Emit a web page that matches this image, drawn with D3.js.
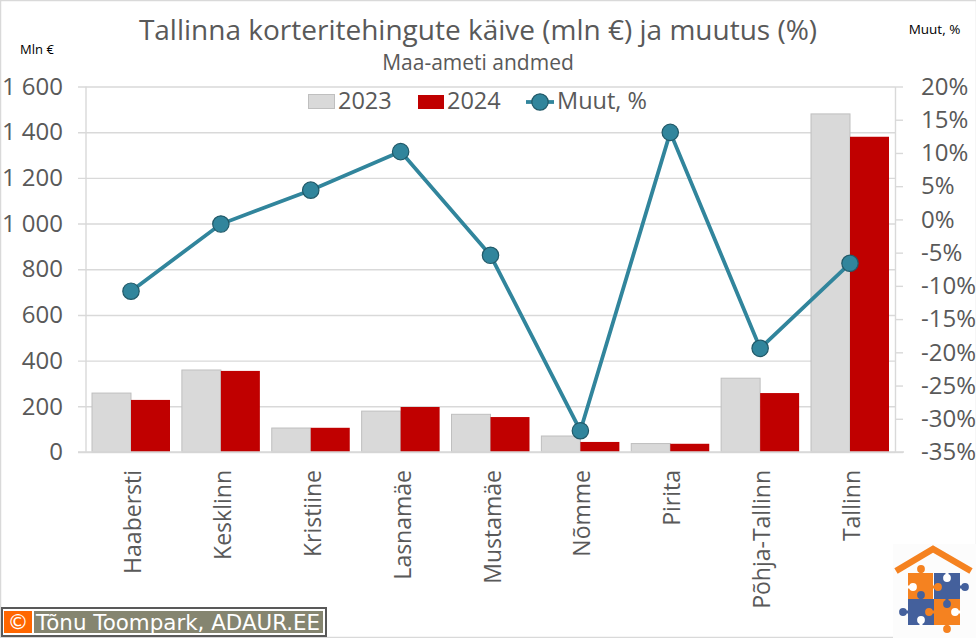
<!DOCTYPE html>
<html>
<head>
<meta charset="utf-8">
<script src="https://cdn.jsdelivr.net/npm/d3@7"></script>
<style>
  html, body { margin: 0; padding: 0; background: #fff; }
  svg { display: block; }
  text { font-family: "Open Sans", sans-serif; }
</style>
</head>
<body>
<div id="chart"></div>
<script>
// chart data
var districts = ["Haabersti", "Kesklinn", "Kristiine", "Lasnamäe", "Mustamäe", "Nõmme", "Pirita", "Põhja-Tallinn", "Tallinn"];
var turnover2023 = [258, 359, 105, 179, 165, 70, 37, 323, 1480];
var turnover2024 = [228, 355, 106, 197, 153, 44, 36, 258, 1380];
var changePct = [-10.8, -0.7, 4.4, 10.2, -5.4, -31.8, 13.1, -19.4, -6.6];
var leftTicks = [0, 200, 400, 600, 800, 1000, 1200, 1400, 1600];
var rightTicks = [20, 15, 10, 5, 0, -5, -10, -15, -20, -25, -30, -35];

var width = 976, height = 638;
var plot = {left: 86, right: 895, top: 86.5, bottom: 452};
var gridColor = "#d9d9d9", textColor = "#595959", lineColor = "#31859c";

var svg = d3.select("#chart").append("svg").attr("width", width).attr("height", height);

// outer border of the picture
svg.append("rect").attr("x", 0.5).attr("y", 0.5).attr("width", width).attr("height", height - 1)
  .attr("fill", "#fff").attr("stroke", gridColor).attr("stroke-width", 1.5);

// scales
var x = d3.scaleBand().domain(districts).range([92, 889]).paddingInner(0.1322).paddingOuter(0);
var xBars = d3.scaleBand().domain(["2023", "2024"]).range([0, x.bandwidth()]);
var yLeft = d3.scaleLinear().domain([0, 1600]).range([plot.bottom, plot.top]);
var yRight = d3.scaleLinear().domain([-35, 20]).range([plot.bottom, plot.top]);

// number format with a space as thousands separator
var fmtLeft = d3.formatLocale({decimal: ",", thousands: " ", grouping: [3], currency: ["", ""]}).format(",d");

// left axis, ticks are stretched over the plot as gridlines
var axisLeft = d3.axisLeft(yLeft).tickValues(leftTicks).tickFormat(fmtLeft)
  .tickSize(plot.right - 78).tickPadding(4);
var gLeft = svg.append("g").attr("transform", "translate(" + plot.right + ",0)").call(axisLeft);
gLeft.select(".domain").remove();
gLeft.selectAll("line").attr("stroke", gridColor).attr("stroke-width", 1.4);
gLeft.selectAll("text").attr("fill", textColor).style("font-size", "24px").attr("x", -(plot.right - 63));

// vertical line at the left edge
svg.append("line").attr("x1", plot.left).attr("x2", plot.left).attr("y1", plot.top).attr("y2", plot.bottom)
  .attr("stroke", gridColor).attr("stroke-width", 1.4);

// right axis, labels are left aligned
var axisRight = d3.axisRight(yRight).tickValues(rightTicks).tickFormat(d => d + "%").tickSizeInner(8).tickSizeOuter(0);
var gRight = svg.append("g").attr("transform", "translate(" + plot.right + ",0)").call(axisRight);
gRight.select(".domain").attr("stroke", gridColor).attr("stroke-width", 1.4);
gRight.selectAll("line").attr("stroke", gridColor).attr("stroke-width", 1.4);
gRight.selectAll("text").attr("fill", textColor).style("font-size", "24px")
  .attr("text-anchor", "start").attr("x", 26);

// bars
var groups = svg.selectAll(".district").data(districts).enter().append("g")
  .attr("class", "district")
  .attr("transform", d => "translate(" + x(d) + ",0)");

groups.append("rect")
  .attr("x", xBars("2023"))
  .attr("y", (d, i) => yLeft(turnover2023[i]))
  .attr("width", xBars.bandwidth())
  .attr("height", (d, i) => plot.bottom - yLeft(turnover2023[i]))
  .attr("fill", "#d9d9d9").attr("stroke", "#bfbfbf");

groups.append("rect")
  .attr("x", xBars("2024"))
  .attr("y", (d, i) => yLeft(turnover2024[i]))
  .attr("width", xBars.bandwidth())
  .attr("height", (d, i) => plot.bottom - yLeft(turnover2024[i]))
  .attr("fill", "#c00000");

// baseline
svg.append("line").attr("x1", 78).attr("x2", 904).attr("y1", plot.bottom).attr("y2", plot.bottom)
  .attr("stroke", gridColor).attr("stroke-width", 1.5);

// category labels
svg.selectAll(".cat").data(districts).enter().append("text")
  .attr("class", "cat")
  .attr("transform", d => "translate(" + (x(d) + x.bandwidth() / 2 + 10) + ",470) rotate(-90)")
  .attr("text-anchor", "end")
  .attr("fill", textColor).style("font-size", "23px")
  .text(d => d);

// change line
var line = d3.line()
  .x((d, i) => x(districts[i]) + x.bandwidth() / 2)
  .y(d => yRight(d));

svg.append("path").datum(changePct).attr("d", line)
  .attr("fill", "none").attr("stroke", lineColor).attr("stroke-width", 3.8);

svg.selectAll(".pt").data(changePct).enter().append("circle")
  .attr("class", "pt")
  .attr("cx", (d, i) => x(districts[i]) + x.bandwidth() / 2)
  .attr("cy", d => yRight(d))
  .attr("r", 8.2)
  .attr("fill", lineColor).attr("stroke", "#215968").attr("stroke-width", 1.2);

// titles
svg.append("text").attr("x", 478).attr("y", 40).attr("text-anchor", "middle")
  .attr("fill", textColor).style("font-size", "28px")
  .text("Tallinna korteritehingute käive (mln €) ja muutus (%)");
svg.append("text").attr("x", 478).attr("y", 70).attr("text-anchor", "middle")
  .attr("fill", textColor).style("font-size", "21px")
  .text("Maa-ameti andmed");
svg.append("text").attr("x", 37).attr("y", 54).attr("text-anchor", "middle")
  .attr("fill", "#000").style("font-size", "13px").text("Mln €");
svg.append("text").attr("x", 934.5).attr("y", 34).attr("text-anchor", "middle")
  .attr("fill", "#000").style("font-size", "13.5px").text("Muut, %");

// legend
var legend = svg.append("g");
legend.append("rect").attr("x", 308.5).attr("y", 94.5).attr("width", 26).attr("height", 14)
  .attr("fill", "#d9d9d9").attr("stroke", "#bfbfbf");
legend.append("text").attr("x", 338).attr("y", 109).attr("fill", textColor).style("font-size", "23.5px").text("2023");
legend.append("rect").attr("x", 418).attr("y", 95).attr("width", 26).attr("height", 14).attr("fill", "#c00000");
legend.append("text").attr("x", 447).attr("y", 109).attr("fill", textColor).style("font-size", "23.5px").text("2024");
legend.append("line").attr("x1", 526).attr("x2", 554).attr("y1", 102).attr("y2", 102)
  .attr("stroke", lineColor).attr("stroke-width", 3.8);
legend.append("circle").attr("cx", 540).attr("cy", 102).attr("r", 8.2)
  .attr("fill", lineColor).attr("stroke", "#215968").attr("stroke-width", 1.2);
legend.append("text").attr("x", 557).attr("y", 109).attr("fill", textColor).style("font-size", "23.5px").text("Muut, %");

// copyright badge
var badge = svg.append("g");
badge.append("rect").attr("x", 2).attr("y", 608).attr("width", 324).attr("height", 28).attr("fill", "#fff")
  .attr("stroke", "#595959").attr("stroke-width", 2);
badge.append("rect").attr("x", 4).attr("y", 611).attr("width", 28).attr("height", 22).attr("fill", "#ff6600");
badge.append("rect").attr("x", 34).attr("y", 611).attr("width", 289).attr("height", 22).attr("fill", "#858570");
badge.append("text").attr("x", 18).attr("y", 629).attr("text-anchor", "middle").attr("fill", "#fff")
  .style("font-family", "DejaVu Sans").style("font-size", "21px").text("©");
badge.append("text").attr("x", 36).attr("y", 630).attr("fill", "#fff")
  .style("font-family", "DejaVu Sans").style("font-size", "21.4px").text("Tõnu Toompark, ADAUR.EE");

// house logo
var logo = svg.append("g").attr("transform", "translate(870,530)");
logo.append("rect").attr("x", 23).attr("y", 14).attr("width", 83).attr("height", 94).attr("fill", "#fcfcfc");
logo.append("path").attr("d", "M26 41 L63 19 L101 41").attr("fill", "none")
  .attr("stroke", "#f58220").attr("stroke-width", 6.5);
var pieces = [
  [38, 43, 25, 26, "#f58220"],
  [64, 43, 26, 26, "#44609c"],
  [38, 69, 26, 26, "#44609c"],
  [64, 69, 26, 26, "#f58220"]
];
logo.selectAll(".piece").data(pieces).enter().append("rect")
  .attr("x", d => d[0]).attr("y", d => d[1]).attr("width", d => d[2]).attr("height", d => d[3]).attr("fill", d => d[4]);
// knob centre, then the point on the piece edge its neck runs to
var knobs = [
  [51, 39, 51, 44, "#f58220"], [43, 57, 37, 57, "#fff"], [77, 48, 77, 42, "#fff"], [68, 57, 62, 57, "#f58220"], [95, 57, 89, 57, "#44609c"],
  [51, 65, 51, 70, "#44609c"], [33, 82, 39, 82, "#44609c"], [59, 82, 65, 82, "#f58220"], [51, 90, 51, 96, "#fff"], [77, 74, 77, 68, "#44609c"],
  [85, 82, 91, 82, "#fff"], [77, 99, 77, 94, "#f58220"]
];
logo.selectAll(".neck").data(knobs).enter().append("line")
  .attr("x1", d => d[0]).attr("y1", d => d[1]).attr("x2", d => d[2]).attr("y2", d => d[3])
  .attr("stroke", d => d[4]).attr("stroke-width", 3);
logo.selectAll(".knob").data(knobs).enter().append("circle")
  .attr("cx", d => d[0]).attr("cy", d => d[1]).attr("r", 3.9).attr("fill", d => d[4]);
</script>
</body>
</html>
